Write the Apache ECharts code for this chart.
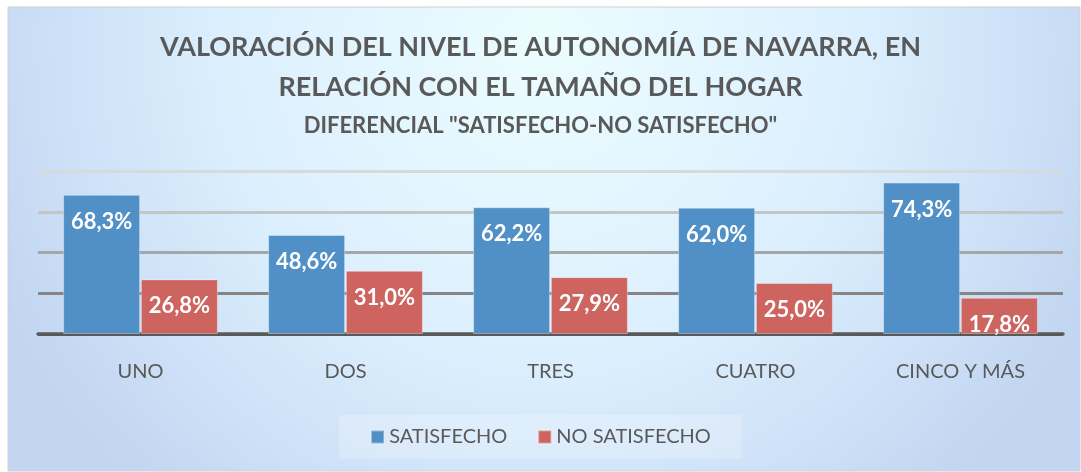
<!DOCTYPE html>
<html>
<head>
<meta charset="utf-8">
<script src="https://cdn.jsdelivr.net/npm/echarts@6/dist/echarts.min.js"></script>
<style>
html,body{margin:0;padding:0;background:#ffffff;}
#chart{width:1081px;height:472px;}
</style>
</head>
<body>
<div id="chart"></div>
<script>
const categories = ['UNO', 'DOS', 'TRES', 'CUATRO', 'CINCO Y MÁS'];
const satisfecho = [68.3, 48.6, 62.2, 62.0, 74.3];
const noSatisfecho = [26.8, 31.0, 27.9, 25.0, 17.8];
const seriesNames = ['SATISFECHO', 'NO SATISFECHO'];
const titleLines = ['VALORACIÓN DEL NIVEL DE AUTONOMÍA DE NAVARRA, EN', 'RELACIÓN CON EL TAMAÑO DEL HOGAR'];
const subtitle = 'DIFERENCIAL "SATISFECHO-NO SATISFECHO"';

const FONT = 'Lato, "Open Sans", sans-serif';
const fmt = p => p.value.toFixed(1).replace('.', ',') + '%';

const chart = echarts.init(document.getElementById('chart'));
chart.setOption({
  animation: false,
  backgroundColor: '#ffffff',
  graphic: [{
    type: 'rect',
    z: -10,
    shape: {x: 8, y: 7, width: 1072, height: 464},
    style: {
      fill: {
        type: 'radial', x: 0.5, y: 0.08, r: 1.3,
        colorStops: [
          {offset: 0, color: '#ecfdff'},
          {offset: 0.55, color: '#dbeefd'},
          {offset: 1, color: '#c2d5f1'}
        ]
      },
      stroke: '#d0d0d0', lineWidth: 1
    }
  }],
  title: {
    text: titleLines.join('\n'),
    subtext: subtitle,
    left: 'center',
    top: 22,
    itemGap: 5,
    textStyle: {fontFamily: FONT, fontWeight: 'bold', fontSize: 27, color: '#595959', lineHeight: 40},
    subtextStyle: {fontFamily: FONT, fontWeight: 'bold', fontSize: 22, color: '#595959', lineHeight: 28}
  },
  legend: {
    data: seriesNames,
    left: 'center',
    top: 415,
    itemWidth: 13,
    itemHeight: 13,
    itemGap: 30,
    padding: [12, 31],
    backgroundColor: 'rgba(255,255,255,0.22)',
    icon: 'rect',
    textStyle: {fontFamily: FONT, fontSize: 20, color: '#595959'}
  },
  grid: {left: 38, right: 18, top: 171, bottom: 138, containLabel: false},
  xAxis: {
    type: 'category',
    data: categories,
    axisLine: {lineStyle: {color: '#595959', width: 3.5}},
    axisTick: {show: false},
    axisLabel: {fontFamily: FONT, fontSize: 20, color: '#595959', margin: 28}
  },
  yAxis: {
    type: 'value',
    min: 0,
    max: 80,
    interval: 20,
    axisLabel: {show: false},
    axisLine: {show: false},
    axisTick: {show: false},
    splitLine: {lineStyle: {width: 3, color: ['#595959', '#858585', '#a6a6a6', '#c5c5c5', '#d9d9d9']}}
  },
  series: [
    {
      name: seriesNames[0],
      type: 'bar',
      data: satisfecho,
      barWidth: 77,
      barGap: '1%',
      itemStyle: {color: '#5190c6', borderColor: 'rgba(255,255,255,0.35)', borderWidth: 1},
      label: {show: true, position: 'insideTop', distance: 16, formatter: fmt,
        fontFamily: FONT, fontWeight: 'bold', fontSize: 22, color: '#ffffff'}
    },
    {
      name: seriesNames[1],
      type: 'bar',
      data: noSatisfecho,
      barWidth: 77,
      itemStyle: {color: '#cd645f', borderColor: 'rgba(255,255,255,0.35)', borderWidth: 1},
      label: {show: true, position: 'insideTop', distance: 16, formatter: fmt,
        fontFamily: FONT, fontWeight: 'bold', fontSize: 22, color: '#ffffff'}
    }
  ]
});
</script>
</body>
</html>
